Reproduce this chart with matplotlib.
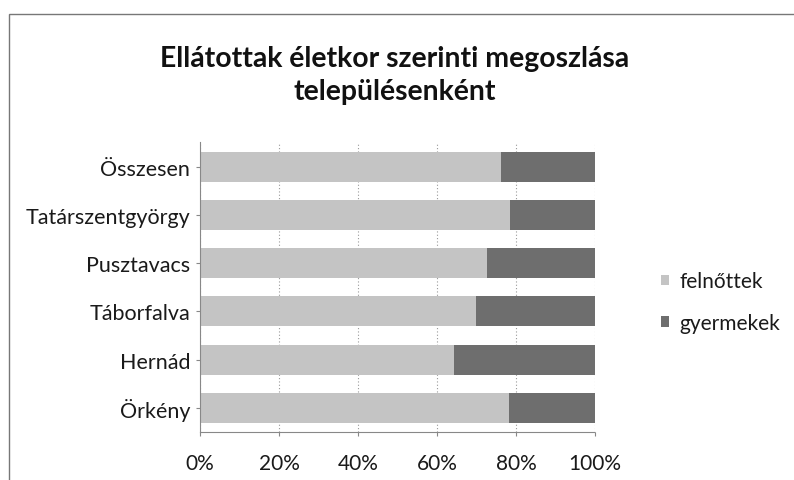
import matplotlib
matplotlib.use("Agg")
import matplotlib.pyplot as plt
from matplotlib.patches import Rectangle
from matplotlib.ticker import PercentFormatter

plt.rcParams['font.family'] = ['Lato', 'DejaVu Sans']

categories = ["Örkény", "Hernád", "Táborfalva", "Pusztavacs", "Tatárszentgyörgy", "Összesen"]
felnottek = [78.2, 64.3, 69.8, 72.7, 78.5, 76.2]
gyermekek = [21.8, 35.7, 30.2, 27.3, 21.5, 23.8]
series_names = ["felnőttek", "gyermekek"]
xticks = [0, 20, 40, 60, 80, 100]

fig = plt.figure(figsize=(7.94, 4.81), dpi=100)
ax = fig.add_axes([0.2519, 0.0998, 0.4975, 0.6020])

y = range(len(categories))
h = 0.62
ax.barh(y, felnottek, height=h, color="#c4c4c4", label=series_names[0], zorder=2)
ax.barh(y, gyermekek, left=felnottek, height=h, color="#6e6e6e", label=series_names[1], zorder=2)

ax.set_xlim(0, 100)
ax.set_ylim(-0.5, len(categories) - 0.5)
ax.set_xticks(xticks)
ax.xaxis.set_major_formatter(PercentFormatter(decimals=0))
ax.set_yticks(list(y))
ax.set_yticklabels(categories)
ax.tick_params(axis='both', colors="#1a1a1a", length=3, color="#888888")
ax.tick_params(axis='x', labelsize=15, pad=12)
ax.tick_params(axis='y', labelsize=15.5, pad=4)
ax.grid(axis='x', color="#999999", linestyle=(0, (1, 2)), linewidth=0.8, zorder=0)
for s in ["top", "right"]:
    ax.spines[s].set_visible(False)
for s in ["left", "bottom"]:
    ax.spines[s].set_color("#888888")
    ax.spines[s].set_linewidth(0.8)
    ax.spines[s].set_linestyle((0, (1, 1)))

fig.text(0.497, 0.843, "Ellátottak életkor szerinti megoszlása\ntelepülésenként",
         ha="center", va="center", fontsize=20.4, fontweight="bold", color="#111111",
         linespacing=1.3)

leg = fig.legend(loc="upper left", bbox_to_anchor=(0.832, 0.434), frameon=False,
                 fontsize=15, handlelength=0.4, handleheight=0.4, handletextpad=0.5,
                 labelspacing=1.05, borderpad=0, borderaxespad=0)
for t in leg.get_texts():
    t.set_color("#1a1a1a")

# chart border (left and top edges visible in the scan)
fig.add_artist(Rectangle((0.011, -0.05), 1.2, 1.019, transform=fig.transFigure,
                         fill=False, edgecolor="#777777", linewidth=1.0))

fig.savefig("out.png", dpi=100, facecolor="white")
